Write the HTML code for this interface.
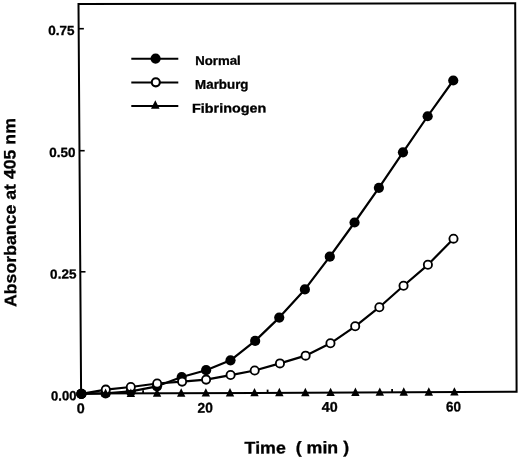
<!DOCTYPE html>
<html><head><meta charset="utf-8"><style>
html,body{margin:0;padding:0;background:#fff;}
svg{display:block;will-change:transform;}
text{font-family:"Liberation Sans",sans-serif;font-weight:bold;fill:#000;stroke:#000;stroke-width:0.3px;white-space:pre;text-rendering:geometricPrecision;}
</style></head><body>
<svg width="520" height="459" viewBox="0 0 520 459">
<rect width="520" height="459" fill="#fff"/>
<path d="M81.1,393.6 L78.5,4.0 L515.2,3.2 L516.6,391.8 Z" fill="none" stroke="#000" stroke-width="2" stroke-linejoin="miter"/>
<line x1="78.67" y1="28.7" x2="83.87" y2="28.7" stroke="#000" stroke-width="1.6"/>
<line x1="79.48" y1="150.7" x2="84.68" y2="150.7" stroke="#000" stroke-width="1.6"/>
<line x1="80.29" y1="271.8" x2="85.49" y2="271.8" stroke="#000" stroke-width="1.6"/>
<line x1="143.1" y1="393.34" x2="143.1" y2="390.14" stroke="#000" stroke-width="1.8"/>
<line x1="267.6" y1="392.82" x2="267.6" y2="389.62" stroke="#000" stroke-width="1.8"/>
<line x1="392.1" y1="392.29" x2="392.1" y2="389.09" stroke="#000" stroke-width="1.8"/>
<polyline points="81.35,393.90 105.60,393.40 130.80,391.30 157.00,386.30 181.70,377.00 206.10,370.20 230.50,360.35 255.15,340.90 279.25,317.60 304.90,289.40 329.80,256.70 354.55,222.50 378.90,187.80 402.95,152.30 427.65,116.25 453.25,80.50" fill="none" stroke="#000" stroke-width="2.2" stroke-linejoin="round"/>
<circle cx="81.35" cy="393.90" r="5.1" fill="#000"/>
<circle cx="105.60" cy="393.40" r="5.1" fill="#000"/>
<circle cx="130.80" cy="391.30" r="5.1" fill="#000"/>
<circle cx="157.00" cy="386.30" r="5.1" fill="#000"/>
<circle cx="181.70" cy="377.00" r="5.1" fill="#000"/>
<circle cx="206.10" cy="370.20" r="5.1" fill="#000"/>
<circle cx="230.50" cy="360.35" r="5.1" fill="#000"/>
<circle cx="255.15" cy="340.90" r="5.1" fill="#000"/>
<circle cx="279.25" cy="317.60" r="5.1" fill="#000"/>
<circle cx="304.90" cy="289.40" r="5.1" fill="#000"/>
<circle cx="329.80" cy="256.70" r="5.1" fill="#000"/>
<circle cx="354.55" cy="222.50" r="5.1" fill="#000"/>
<circle cx="378.90" cy="187.80" r="5.1" fill="#000"/>
<circle cx="402.95" cy="152.30" r="5.1" fill="#000"/>
<circle cx="427.65" cy="116.25" r="5.1" fill="#000"/>
<circle cx="453.25" cy="80.50" r="5.1" fill="#000"/>
<polyline points="81.35,393.90 105.80,389.60 130.80,387.00 157.15,383.50 182.10,381.60 206.10,379.60 230.60,375.05 254.70,370.50 279.95,363.40 305.60,355.65 330.45,343.30 355.20,326.30 379.35,307.20 403.55,285.80 427.90,264.80 453.50,238.70" fill="none" stroke="#000" stroke-width="2.2" stroke-linejoin="round"/>
<circle cx="81.35" cy="393.90" r="4.10" fill="#fff" stroke="#000" stroke-width="1.85"/>
<circle cx="105.80" cy="389.60" r="4.10" fill="#fff" stroke="#000" stroke-width="1.85"/>
<circle cx="130.80" cy="387.00" r="4.10" fill="#fff" stroke="#000" stroke-width="1.85"/>
<circle cx="157.15" cy="383.50" r="4.10" fill="#fff" stroke="#000" stroke-width="1.85"/>
<circle cx="182.10" cy="381.60" r="4.10" fill="#fff" stroke="#000" stroke-width="1.85"/>
<circle cx="206.10" cy="379.60" r="4.10" fill="#fff" stroke="#000" stroke-width="1.85"/>
<circle cx="230.60" cy="375.05" r="4.10" fill="#fff" stroke="#000" stroke-width="1.85"/>
<circle cx="254.70" cy="370.50" r="4.10" fill="#fff" stroke="#000" stroke-width="1.85"/>
<circle cx="279.95" cy="363.40" r="4.10" fill="#fff" stroke="#000" stroke-width="1.85"/>
<circle cx="305.60" cy="355.65" r="4.10" fill="#fff" stroke="#000" stroke-width="1.85"/>
<circle cx="330.45" cy="343.30" r="4.10" fill="#fff" stroke="#000" stroke-width="1.85"/>
<circle cx="355.20" cy="326.30" r="4.10" fill="#fff" stroke="#000" stroke-width="1.85"/>
<circle cx="379.35" cy="307.20" r="4.10" fill="#fff" stroke="#000" stroke-width="1.85"/>
<circle cx="403.55" cy="285.80" r="4.10" fill="#fff" stroke="#000" stroke-width="1.85"/>
<circle cx="427.90" cy="264.80" r="4.10" fill="#fff" stroke="#000" stroke-width="1.85"/>
<circle cx="453.50" cy="238.70" r="4.10" fill="#fff" stroke="#000" stroke-width="1.85"/>
<path d="M105.60,388.60 L109.80,397.00 L101.40,397.00 Z" fill="#000"/>
<path d="M130.85,388.49 L135.05,396.89 L126.65,396.89 Z" fill="#000"/>
<path d="M157.05,388.38 L161.25,396.78 L152.85,396.78 Z" fill="#000"/>
<path d="M181.20,388.28 L185.40,396.68 L177.00,396.68 Z" fill="#000"/>
<path d="M205.85,388.18 L210.05,396.58 L201.65,396.58 Z" fill="#000"/>
<path d="M230.00,388.07 L234.20,396.47 L225.80,396.47 Z" fill="#000"/>
<path d="M254.50,387.97 L258.70,396.37 L250.30,396.37 Z" fill="#000"/>
<path d="M279.35,387.87 L283.55,396.27 L275.15,396.27 Z" fill="#000"/>
<path d="M305.35,387.76 L309.55,396.16 L301.15,396.16 Z" fill="#000"/>
<path d="M330.60,387.65 L334.80,396.05 L326.40,396.05 Z" fill="#000"/>
<path d="M355.40,387.55 L359.60,395.95 L351.20,395.95 Z" fill="#000"/>
<path d="M379.80,387.45 L384.00,395.85 L375.60,395.85 Z" fill="#000"/>
<path d="M403.75,387.34 L407.95,395.74 L399.55,395.74 Z" fill="#000"/>
<path d="M428.80,387.24 L433.00,395.64 L424.60,395.64 Z" fill="#000"/>
<path d="M454.40,387.13 L458.60,395.53 L450.20,395.53 Z" fill="#000"/>
<circle cx="81.35" cy="393.90" r="5.1" fill="#000"/>
<line x1="131.3" y1="58.8" x2="178.3" y2="58.8" stroke="#000" stroke-width="1.9"/>
<line x1="131.3" y1="82.5" x2="178.3" y2="82.5" stroke="#000" stroke-width="1.9"/>
<line x1="131.3" y1="106.0" x2="178.3" y2="106.0" stroke="#000" stroke-width="1.9"/>
<circle cx="155.6" cy="58.6" r="5.1" fill="#000"/>
<circle cx="155.8" cy="82.3" r="4.05" fill="#fff" stroke="#000" stroke-width="2.1"/>
<path d="M155.3,100.2 L159.6,108.7 L151,108.7 Z" fill="#000"/>
<text transform="rotate(-0.3 48.28 35.07)" x="48.28" y="35.07" style="font-size:13.21px" textLength="26.35" lengthAdjust="spacingAndGlyphs">0.75</text>
<text transform="rotate(-0.3 49.30 157.11)" x="49.30" y="157.11" style="font-size:13.37px" textLength="26.27" lengthAdjust="spacingAndGlyphs">0.50</text>
<text transform="rotate(-0.3 50.12 278.63)" x="50.12" y="278.63" style="font-size:13.16px" textLength="26.31" lengthAdjust="spacingAndGlyphs">0.25</text>
<text transform="rotate(-0.3 51.07 400.43)" x="51.07" y="400.43" style="font-size:13.22px" textLength="25.38" lengthAdjust="spacingAndGlyphs">0.00</text>
<text transform="rotate(-0.3 76.72 413.13)" x="76.72" y="413.13" style="font-size:14.36px" textLength="8.03" lengthAdjust="spacingAndGlyphs">0</text>
<text transform="rotate(-0.3 197.51 412.65)" x="197.51" y="412.65" style="font-size:14.11px" textLength="15.32" lengthAdjust="spacingAndGlyphs">20</text>
<text transform="rotate(-0.3 321.78 411.83)" x="321.78" y="411.83" style="font-size:14.05px" textLength="15.96" lengthAdjust="spacingAndGlyphs">40</text>
<text transform="rotate(-0.3 446.06 411.46)" x="446.06" y="411.46" style="font-size:13.99px" textLength="15.03" lengthAdjust="spacingAndGlyphs">60</text>
<text transform="rotate(-0.3 195.21 65.06)" x="195.21" y="65.06" style="font-size:12.67px" textLength="45.55" lengthAdjust="spacingAndGlyphs">Normal</text>
<text transform="rotate(-0.3 195.11 88.92)" x="195.11" y="88.92" style="font-size:12.94px" textLength="53.41" lengthAdjust="spacingAndGlyphs">Marburg</text>
<text transform="rotate(-0.3 192.03 112.72)" x="192.03" y="112.72" style="font-size:12.79px" textLength="74.40" lengthAdjust="spacingAndGlyphs">Fibrinogen</text>
<text transform="rotate(-0.3 244.60 453.62)" x="244.60" y="453.62" style="font-size:16.78px" textLength="104.54" lengthAdjust="spacingAndGlyphs">Time  ( min )</text>
<text transform="translate(16.22,307.03) rotate(-90.3)" x="0" y="0" style="font-size:16.63px" textLength="188.94" lengthAdjust="spacingAndGlyphs">Absorbance at 405 nm</text>
</svg>
</body></html>
